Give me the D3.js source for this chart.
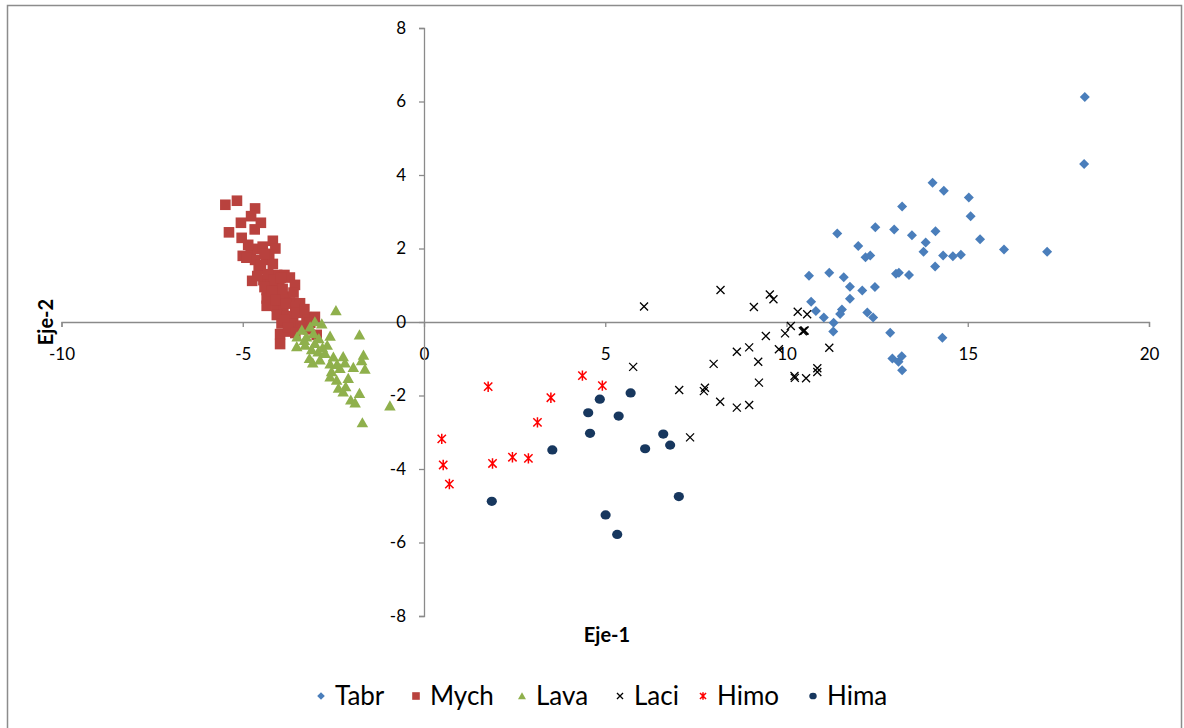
<!DOCTYPE html>
<html>
<head>
<meta charset="utf-8">
<script src="https://cdn.jsdelivr.net/npm/d3@7"></script>
<style>
  html, body { margin: 0; padding: 0; background: #fff; }
  svg { display: block; font-family: Lato, "Open Sans", sans-serif; }
</style>
</head>
<body>
<div id="chart"></div>
<script>
// Scatter of group scores on the first two axes (Eje-1 / Eje-2)

const seriesNames = ["Tabr", "Mych", "Lava", "Laci", "Himo", "Hima"];

const xTicks = [-10, -5, 0, 5, 10, 15, 20];
const yTicks = [-8, -6, -4, -2, 0, 2, 4, 6, 8];

const tabrPts = [
  [18.23, 6.12], [18.21, 4.30], [17.19, 1.91], [16.0, 1.97], [15.34, 2.25],
  [15.08, 2.88], [15.03, 3.39], [14.34, 3.57], [14.03, 3.79], [13.19, 3.14],
  [12.45, 2.58], [12.97, 2.52], [11.40, 2.41], [13.46, 2.36], [14.11, 2.47],
  [13.84, 2.16], [13.78, 1.91], [14.32, 1.81], [14.59, 1.79], [14.81, 1.83],
  [11.98, 2.07], [12.18, 1.76], [12.31, 1.81], [14.10, 1.51], [13.02, 1.31],
  [13.10, 1.34], [13.38, 1.28], [10.62, 1.26], [11.18, 1.34], [11.58, 1.22],
  [11.75, 0.96], [12.09, 0.86], [12.44, 0.95], [11.75, 0.63], [10.68, 0.55],
  [10.81, 0.30], [11.53, 0.34], [11.48, 0.22], [12.23, 0.26], [12.39, 0.12],
  [11.03, 0.12], [11.30, -0.02], [11.29, -0.26], [12.86, -0.29], [14.30, -0.43],
  [12.92, -0.99], [13.09, -1.08], [13.18, -0.93], [13.19, -1.31]
];

const mychPts = [
  [-5.48, 3.19], [-5.16, 3.30], [-4.66, 3.09], [-4.77, 2.88], [-4.50, 2.70],
  [-5.05, 2.70], [-5.38, 2.44], [-4.67, 2.52], [-5.03, 2.29], [-4.17, 2.21],
  [-5.00, 1.80], [-4.78, 1.91], [-4.59, 1.99], [-4.27, 1.85], [-4.66, 1.69],
  [-4.36, 1.69], [-4.17, 1.58], [-4.56, 1.43], [-4.05, 1.28], [-3.85, 1.28],
  [-3.70, 1.21], [-4.74, 1.12], [-4.43, 1.14], [-4.22, 1.07], [-3.99, 0.98],
  [-3.56, 1.01], [-4.34, 0.87], [-4.06, 0.78], [-3.83, 0.69], [-4.34, 0.64],
  [-3.70, 0.53], [-3.42, 0.51], [-4.34, 0.44], [-4.06, 0.42], [-3.88, 0.33],
  [-3.42, 0.31], [-4.06, 0.19], [-3.79, 0.16], [-3.61, 0.14], [-3.24, 0.13],
  [-3.01, 0.14], [-3.93, -0.04], [-3.65, -0.04], [-3.14, -0.02], [-3.97, -0.33],
  [-3.72, -0.26], [-2.96, -0.35], [-3.97, -0.60],
  [-4.90, 1.75], [-4.50, 1.55], [-4.30, 1.30], [-4.60, 1.25], [-4.15, 1.15],
  [-3.95, 1.20], [-4.40, 0.95], [-4.20, 0.85], [-3.90, 0.90], [-3.60, 0.80],
  [-4.10, 0.60], [-3.80, 0.50], [-3.55, 0.40], [-3.85, 0.05], [-3.50, 0.25],
  [-3.30, 0.35], [-3.75, -0.15], [-3.40, -0.10], [-3.20, -0.20], [-3.55, -0.30],
  [-4.45, 2.05], [-4.85, 2.10], [-4.10, 2.00], [-4.40, 1.85]
];

const lavaPts = [
  [-2.43, 0.31], [-3.01, 0.01], [-2.82, -0.05], [-3.14, -0.13], [-3.37, -0.22],
  [-3.50, -0.40], [-3.24, -0.40], [-3.05, -0.31], [-2.59, -0.38], [-1.78, -0.35],
  [-3.51, -0.67], [-3.28, -0.63], [-3.01, -0.58], [-2.67, -0.63], [-2.92, -0.81],
  [-2.73, -0.85], [-3.16, -0.99], [-3.07, -1.11], [-2.87, -1.03], [-2.59, -1.14],
  [-2.23, -0.94], [-2.18, -1.11], [-1.67, -0.90], [-1.72, -1.05], [-1.95, -1.23],
  [-1.63, -1.28], [-2.55, -1.35], [-2.32, -1.26], [-2.59, -1.49], [-2.41, -1.58],
  [-2.09, -1.53], [-2.36, -1.80], [-2.16, -1.76], [-2.23, -1.90], [-1.78, -1.94],
  [-2.02, -2.12], [-1.90, -2.20], [-0.94, -2.28], [-1.70, -2.74],
  [-3.30, -0.50], [-2.90, -0.45], [-3.10, -0.75], [-2.80, -0.70], [-2.50, -0.95],
  [-2.40, -1.15]
];

const laciPts = [
  [6.07, 0.42], [8.18, 0.87], [9.54, 0.75], [9.64, 0.62], [9.10, 0.41],
  [10.31, 0.28], [10.57, 0.21], [10.12, -0.11], [10.48, -0.24], [10.45, -0.25],
  [10.50, -0.23], [9.96, -0.31], [9.43, -0.38], [11.18, -0.70], [9.79, -0.74],
  [8.97, -0.69], [8.63, -0.81], [9.22, -1.08], [7.99, -1.14], [5.77, -1.22],
  [10.85, -1.26], [10.85, -1.36], [10.22, -1.47], [10.23, -1.52], [10.54, -1.53],
  [9.24, -1.65], [7.04, -1.85], [7.75, -1.79], [7.72, -1.88], [8.17, -2.17],
  [8.97, -2.26], [8.63, -2.33], [7.34, -3.14]
];

const himoPts = [
  [0.49, -3.18], [0.53, -3.89], [0.70, -4.41], [1.77, -1.76], [1.89, -3.85],
  [2.44, -3.68], [2.88, -3.71], [3.13, -2.73], [3.50, -2.06], [4.37, -1.46],
  [4.92, -1.73]
];

const himaPts = [
  [1.87, -4.88], [3.54, -3.48], [4.53, -2.47], [4.58, -3.03], [4.85, -2.10],
  [5.37, -2.56], [5.70, -1.93], [5.01, -5.25], [5.33, -5.78], [6.10, -3.45],
  [6.60, -3.05], [6.79, -3.35], [7.03, -4.75]
];

const seriesPts = [tabrPts, mychPts, lavaPts, laciPts, himoPts, himaPts];
const seriesColors = ["#4A7EBB", "#B9423E", "#8FB04C", "#000000", "#FF0000", "#17375E"];

const W = 1184, H = 728;
const svg = d3.select("#chart").append("svg").attr("width", W).attr("height", H);

// outer chart frame
svg.append("rect")
  .attr("x", 7.5).attr("y", 5.5)
  .attr("width", 1174).attr("height", 740)
  .attr("fill", "none")
  .attr("stroke", "#8c8c8c")
  .attr("stroke-width", 1.5);

const x = d3.scaleLinear().domain([-10, 20]).range([61.5, 1149]);
const y = d3.scaleLinear().domain([-8, 8]).range([616, 28]);

const axisColor = "#8a8a8a";
const fmt = d => String(d); // plain hyphen for negatives, like the original

// x axis through y = 0
const gx = svg.append("g").attr("transform", `translate(0,${y(0)})`)
  .call(d3.axisBottom(x).tickValues(xTicks).tickSize(5).tickFormat(fmt));
gx.select(".domain").attr("stroke", axisColor).attr("stroke-width", 1.3);
gx.selectAll(".tick line").attr("stroke", axisColor).attr("stroke-width", 1.3);
gx.selectAll(".tick text")
  .attr("y", 38).attr("dy", 0)
  .attr("fill", "#000").attr("font-size", 17)
  .attr("font-family", "Lato, sans-serif");

// y axis through x = 0
const gy = svg.append("g").attr("transform", `translate(${x(0)},0)`)
  .call(d3.axisLeft(y).tickValues(yTicks).tickSize(5).tickFormat(fmt));
gy.select(".domain").attr("stroke", axisColor).attr("stroke-width", 1.3);
gy.selectAll(".tick line").attr("stroke", axisColor).attr("stroke-width", 1.3);
gy.selectAll(".tick text")
  .attr("x", -18)
  .attr("fill", "#000").attr("font-size", 17)
  .attr("font-family", "Lato, sans-serif");

// axis titles
svg.append("text")
  .attr("x", 607).attr("y", 642)
  .attr("text-anchor", "middle")
  .attr("font-size", 20).attr("font-weight", "bold")
  .text("Eje-1");

svg.append("text")
  .attr("transform", `translate(53,322) rotate(-90)`)
  .attr("text-anchor", "middle")
  .attr("font-size", 20).attr("font-weight", "bold")
  .text("Eje-2");

// marker drawing
function drawMarker(g, idx, s) {
  const c = seriesColors[idx];
  if (idx === 0) {
    g.append("path").attr("d", `M0,${-s}L${s},0L0,${s}L${-s},0Z`).attr("fill", c);
  } else if (idx === 1) {
    g.append("rect").attr("x", -s).attr("y", -s).attr("width", 2 * s).attr("height", 2 * s).attr("fill", c);
  } else if (idx === 2) {
    g.append("path").attr("d", `M0,${-s}L${s * 1.05},${s * 0.85}L${-s * 1.05},${s * 0.85}Z`).attr("fill", c);
  } else if (idx === 3) {
    const r = s * 0.8;
    g.append("path").attr("d", `M${-r},${-r}L${r},${r}M${-r},${r}L${r},${-r}`)
      .attr("stroke", c).attr("stroke-width", 1.3).attr("fill", "none");
  } else if (idx === 4) {
    const r = s * 0.8;
    g.append("path").attr("d", `M${-r},${-r}L${r},${r}M${-r},${r}L${r},${-r}M0,${-s}L0,${s}`)
      .attr("stroke", c).attr("stroke-width", 1.5).attr("fill", "none");
  } else {
    g.append("ellipse").attr("rx", s * 0.98).attr("ry", s * 0.88).attr("fill", c);
  }
}

const markerSize = [5, 5.3, 5.5, 5, 5.2, 5.2];

seriesPts.forEach((pts, i) => {
  const layer = svg.append("g").attr("class", "series-" + seriesNames[i]);
  pts.forEach(p => {
    const g = layer.append("g").attr("transform", `translate(${x(p[0])},${y(p[1])})`);
    drawMarker(g, i, markerSize[i]);
  });
});

// legend
const legendX = [321, 416, 522, 620, 703, 813];
const legend = svg.append("g");
seriesNames.forEach((name, i) => {
  const g = legend.append("g").attr("transform", `translate(${legendX[i]},696)`);
  drawMarker(g, i, 3.8);
  legend.append("text")
    .attr("x", legendX[i] + 14).attr("y", 705)
    .attr("font-size", 26)
    .text(name);
});
</script>
</body>
</html>
